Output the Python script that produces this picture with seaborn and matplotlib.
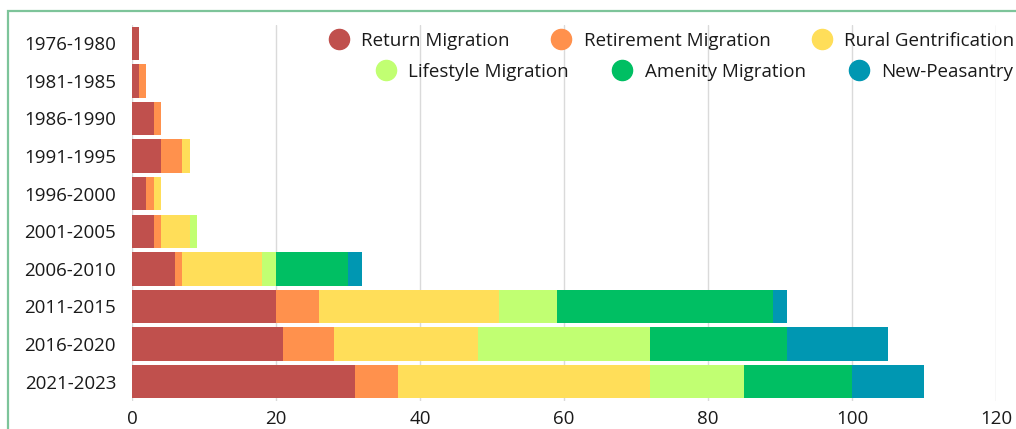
import matplotlib
matplotlib.use("Agg")
import matplotlib.pyplot as plt
import seaborn as sns
import pandas as pd
import numpy as np
from matplotlib.lines import Line2D
from matplotlib.patches import Rectangle

# ---- data ----
periods = ["1976-1980", "1981-1985", "1986-1990", "1991-1995", "1996-2000",
           "2001-2005", "2006-2010", "2011-2015", "2016-2020", "2021-2023"]
return_migration = [1, 1, 3, 4, 2, 3, 6, 20, 21, 31]
retirement_migration = [0, 1, 1, 3, 1, 1, 1, 6, 7, 6]
rural_gentrification = [0, 0, 0, 1, 1, 4, 11, 25, 20, 35]
lifestyle_migration = [0, 0, 0, 0, 0, 1, 2, 8, 24, 13]
amenity_migration = [0, 0, 0, 0, 0, 0, 10, 30, 19, 15]
new_peasantry = [0, 0, 0, 0, 0, 0, 2, 2, 14, 10]

series_names = ["Return Migration", "Retirement Migration", "Rural Gentrification",
                "Lifestyle Migration", "Amenity Migration", "New-Peasantry"]
series_values = [return_migration, retirement_migration, rural_gentrification,
                 lifestyle_migration, amenity_migration, new_peasantry]
colors = ["#C0504D", "#FF914D", "#FFDE59", "#C1FF72", "#00BF63", "#0097B2"]

# ---- long-form table of cumulative ends ----
cum = np.cumsum(np.array(series_values), axis=0)
rows = []
for name, ends in zip(series_names, cum):
    for p, e in zip(periods, ends):
        rows.append({"period": p, "series": name, "end": e})
df = pd.DataFrame(rows)

sns.set_theme(style="white")
plt.rcParams["font.family"] = ["Open Sans", "DejaVu Sans"]
text_color = "#1a1a1a"
fs = 13.5

fig = plt.figure(figsize=(10.16, 4.29), dpi=100)
ax = fig.add_axes([132 / 1016, (429 - 400.5) / 429, 864 / 1016, 376 / 429])

palette = dict(zip(series_names, colors))
sns.barplot(data=df, x="end", y="period", hue="series",
            hue_order=series_names[::-1], order=periods, palette=palette,
            dodge=False, orient="h", width=0.885, saturation=1,
            errorbar=None, legend=False, ax=ax, zorder=2, linewidth=0)

ax.set_xlim(0, 120)
ax.set_xticks(np.arange(0, 121, 20))
ax.set_xlabel("")
ax.set_ylabel("")
ax.xaxis.grid(True, color="#dadada", linewidth=1.0, zorder=0)
ax.yaxis.grid(False)
ax.set_axisbelow(True)
for s in ax.spines.values():
    s.set_visible(False)
ax.tick_params(axis="y", length=0, pad=11.5, labelsize=fs, labelcolor=text_color)
ax.tick_params(axis="x", length=0, pad=6.5, labelsize=fs, labelcolor=text_color)

# ---- legend: two centred rows ----
handles = [Line2D([], [], marker="o", linestyle="", markersize=14.5,
                  markerfacecolor=c, markeredgecolor=c) for c in colors]
common = dict(frameon=False, ncol=3, fontsize=fs, handlelength=1.0,
              handletextpad=0.7, borderpad=0,
              borderaxespad=0, labelcolor=text_color,
              loc="center left", bbox_transform=fig.transFigure)
leg1 = fig.legend(handles[:3], series_names[:3], columnspacing=2.23,
                  bbox_to_anchor=(329.5 / 1016, (429 - 41) / 429), **common)
leg2 = fig.legend(handles[3:], series_names[3:], columnspacing=2.33,
                  bbox_to_anchor=(376.5 / 1016, (429 - 72) / 429), **common)

# ---- green frame (cropped at right/bottom) ----
frame = Rectangle((7.5 / 1016, -0.2), 1.3, (429 - 11.5) / 429 + 0.2,
                  transform=fig.transFigure, fill=False,
                  edgecolor="#7DC49A", linewidth=1.6)
fig.add_artist(frame)

fig.savefig("out.png", dpi=100)
